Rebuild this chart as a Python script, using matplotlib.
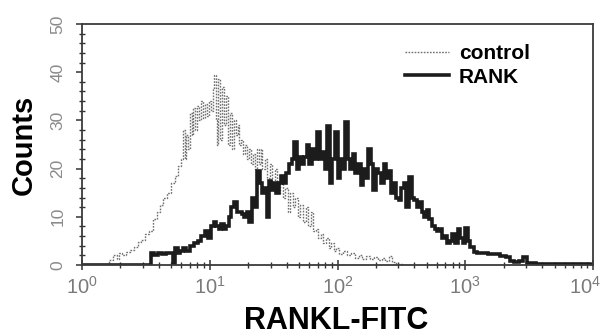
import numpy as np
import matplotlib
matplotlib.use("Agg")
import matplotlib.pyplot as plt
import matplotlib.transforms as mtransforms
from matplotlib.ticker import LogLocator, LogFormatterMathtext, MultipleLocator, NullFormatter

plt.rcParams['font.family'] = ['Liberation Sans', 'DejaVu Sans']
plt.rcParams['mathtext.fontset'] = 'custom'
plt.rcParams['mathtext.rm'] = 'Liberation Sans'
plt.rcParams['mathtext.default'] = 'regular'

# ---- data (log10 of RANKL-FITC intensity, counts) ----
control_log = [0.18, 0.20, 0.23, 0.26, 0.28, 0.30, 0.33, 0.36, 0.39, 0.42, 0.45, 0.48, 0.51, 0.54,
               0.57, 0.60, 0.62, 0.65, 0.68, 0.71, 0.74, 0.77, 0.785, 0.80, 0.81, 0.82, 0.835,
               0.85, 0.865, 0.88, 0.895, 0.91, 0.925, 0.94, 0.955, 0.97, 0.985, 1.00, 1.015,
               1.03, 1.04, 1.05, 1.06, 1.075, 1.09, 1.105, 1.12, 1.135, 1.15, 1.165, 1.18,
               1.195, 1.21, 1.225, 1.24, 1.255, 1.27, 1.285, 1.30, 1.315, 1.33, 1.345, 1.36,
               1.375, 1.39, 1.405, 1.42, 1.44, 1.46, 1.48, 1.50, 1.52, 1.54, 1.56, 1.58, 1.60,
               1.62, 1.64, 1.66, 1.68, 1.70, 1.72, 1.74, 1.76, 1.78, 1.80, 1.82, 1.84, 1.86,
               1.88, 1.90, 1.92, 1.94, 1.96, 1.98, 2.00, 2.03, 2.06, 2.09, 2.12, 2.15, 2.18,
               2.21, 2.24, 2.27, 2.30, 2.33, 2.36, 2.39, 2.41, 2.44, 2.48, 2.55]
control_counts = [0, 0, 1.0, 2.0, 1.2, 2.5, 2.0, 2.8, 3.2, 3.8, 4.8, 5.2, 6.5, 7.0,
                  9.5, 11, 12.5, 14, 15, 17, 18.5, 20.5, 22, 28, 22, 27, 24,
                  31.5, 27, 32.5, 28, 33, 30, 34, 30.5, 33.5, 31, 34, 32,
                  36.5, 39.5, 30, 25, 38.5, 26, 37, 29, 35, 25, 31.5, 24,
                  30, 27, 29, 25, 26, 23, 25, 22, 24, 21, 23, 20,
                  24, 21, 24, 20, 22, 18, 21, 16, 20, 15, 18, 14, 16,
                  11, 15, 12, 14, 10, 12.5, 9, 12, 8, 11, 7, 7.5, 5.5,
                  6.5, 4.5, 5.5, 3.5, 4.5, 3.0, 3.5, 2.2, 3.0, 2.0, 2.4, 1.4, 2.0,
                  1.3, 1.8, 1.2, 1.6, 1.0, 1.5, 0.8, 1.8, 0.6, 0.2, 0]

rank_log = [0.00, 0.53, 0.55, 0.58, 0.61, 0.64, 0.67, 0.70, 0.72, 0.74, 0.76, 0.78, 0.80, 0.83,
            0.86, 0.89, 0.92, 0.95, 0.98, 1.00, 1.02, 1.04, 1.06, 1.08, 1.10, 1.12, 1.14,
            1.16, 1.18, 1.20, 1.22, 1.24, 1.26, 1.28, 1.30, 1.32, 1.34, 1.36, 1.38, 1.40,
            1.42, 1.44, 1.46, 1.47, 1.49, 1.51, 1.53, 1.55, 1.57, 1.59, 1.61, 1.63, 1.65,
            1.67, 1.69, 1.71, 1.73, 1.75, 1.77, 1.79, 1.81, 1.83, 1.85, 1.87, 1.89, 1.91,
            1.93, 1.95, 1.97, 1.99, 2.01, 2.03, 2.05, 2.07, 2.09, 2.11, 2.13, 2.15, 2.17,
            2.19, 2.21, 2.23, 2.25, 2.27, 2.29, 2.31, 2.33, 2.35, 2.37, 2.39, 2.41, 2.43,
            2.45, 2.47, 2.49, 2.51, 2.53, 2.55, 2.57, 2.59, 2.61, 2.63, 2.65, 2.67, 2.69,
            2.71, 2.73, 2.75, 2.77, 2.79, 2.81, 2.83, 2.85, 2.87, 2.89, 2.91, 2.93, 2.95,
            2.97, 2.99, 3.01, 3.03, 3.05, 3.08, 3.11, 3.15, 3.20, 3.25, 3.30, 3.34, 3.36,
            3.40, 3.44, 3.47, 3.50, 3.60, 3.75, 3.95, 4.00]
rank_counts = [0, 0, 2.5, 2.0, 2.5, 2.2, 2.5, 2.5, 0.4, 3.5, 2.5, 3.0, 3.5, 3.0,
               4.0, 4.5, 5.0, 6.0, 7.0, 5.5, 8.0, 9.0, 8.0, 7.5, 8.5, 7.5, 8.0,
               10, 12, 13, 11, 11, 10.5, 10, 11, 9, 14, 12, 19.5, 17,
               15, 16, 10, 17.5, 15.5, 17, 15, 17, 18.5, 17, 19, 21, 22,
               25.5, 20, 22.5, 21, 22.5, 25, 21, 24, 22, 27.5, 22, 23.5, 20,
               28.8, 17, 22, 27.5, 18, 22, 20, 29.6, 22, 20, 23, 19, 21,
               16.5, 20, 18, 24, 21, 15.5, 20, 19, 17, 21, 18, 19.5, 15,
               17, 14, 13.5, 16, 17, 12, 18.3, 14, 13.5, 12, 13, 11, 10,
               11.5, 9.5, 8, 7.5, 7, 7.5, 5.5, 6, 4.5, 5, 6.5, 4.5, 7.5,
               5.5, 4.5, 7.7, 5, 3.8, 2.8, 2.5, 2.5, 2.2, 2.2, 1.8, 1.7, 0.8,
               0.6, 0.8, 1.6, 0.5, 0.3, 0.2, 0.2, 0]

labels = ["control", "RANK"]
x_label = "RANKL-FITC"
y_label = "Counts"

# ---- figure ----
fig = plt.figure(figsize=(6.05, 3.36), dpi=100)
ax = fig.add_axes([82/605, 1-265/336, (593-82)/605, (265-24)/336])

ctrl_x = np.power(10.0, control_log)
rank_x = np.power(10.0, rank_log)

ax.plot(ctrl_x, control_counts, color='#707070', lw=1.0, linestyle=(0, (1.2, 1.0)),
        drawstyle='steps-mid', label=labels[0])
ax.plot(rank_x, rank_counts, color='#1c1c1c', lw=2.6, drawstyle='steps-mid',
        label=labels[1], solid_joinstyle='miter')

ax.set_xscale('log')
ax.set_xlim(1, 1e4)
ax.set_ylim(0, 50)

ax.xaxis.set_major_locator(LogLocator(base=10, numticks=10))
ax.xaxis.set_major_formatter(LogFormatterMathtext())
ax.xaxis.set_minor_locator(LogLocator(base=10, subs=np.arange(2, 10), numticks=20))
ax.xaxis.set_minor_formatter(NullFormatter())
ax.yaxis.set_major_locator(MultipleLocator(10))
ax.yaxis.set_minor_locator(MultipleLocator(2))

for s in ax.spines.values():
    s.set_color('#3a3a3a')
    s.set_linewidth(1.3)

ax.tick_params(axis='x', which='major', direction='inout', length=7, width=1.1,
               color='#333333', labelsize=14.5, labelcolor='#7a7a7a', pad=4)
ax.tick_params(axis='x', which='minor', direction='inout', length=5, width=1.0,
               color='#333333')
ax.tick_params(axis='y', which='major', direction='out', length=4, width=1.1,
               color='#333333', labelsize=12.5, labelcolor='#8a8a8a', pad=8)
ax.tick_params(axis='y', which='minor', direction='inout', length=4, width=1.0,
               color='#333333')
for t in ax.get_yticklabels():
    t.set_rotation(90)
    t.set_va('center')

ax.set_xlabel(x_label, fontsize=22, fontweight='bold')
ax.xaxis.set_label_coords(0.498, -0.172)
ax.set_ylabel(y_label, fontsize=21, fontweight='bold')
ax.yaxis.set_label_coords(-0.086, 0.5)

leg = ax.legend(loc='upper right', bbox_to_anchor=(0.893, 0.95), frameon=False,
                prop={'size': 15, 'weight': 'bold'}, handlelength=2.1,
                handletextpad=0.5, labelspacing=0.2, borderaxespad=0)

# keep the rightmost decade label (10^4) inside the figure edge
fig.canvas.draw()
last_tick = [t for t in ax.xaxis.get_major_ticks() if np.isclose(t.get_loc(), 1e4)]
for t in last_tick:
    t.label1.set_transform(t.label1.get_transform() +
                           mtransforms.ScaledTranslation(-8/100, 0, fig.dpi_scale_trans))

fig.savefig('out.png', dpi=100)
